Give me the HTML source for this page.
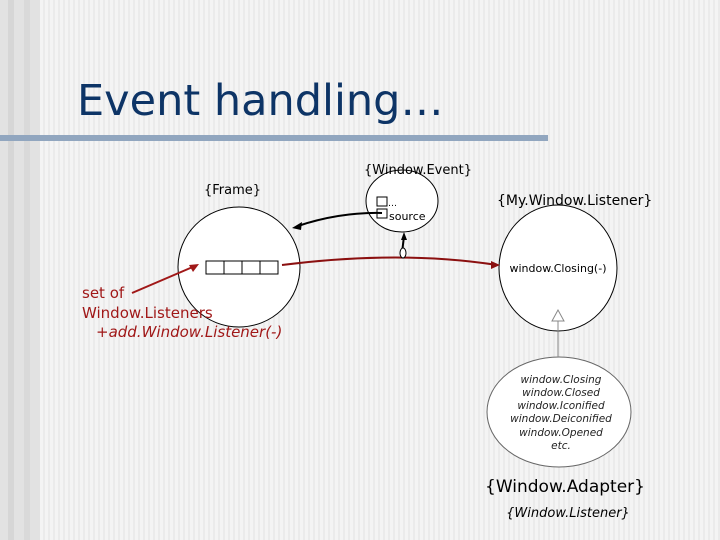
<!DOCTYPE html>
<html><head><meta charset="utf-8"><style>
body{margin:0;width:720px;height:540px;overflow:hidden;font-family:"DejaVu Sans","Liberation Sans",sans-serif;
background:repeating-linear-gradient(90deg,#f4f4f4 0,#f4f4f4 3px,#ebebeb 3px,#ebebeb 5px);}
</style></head><body>
<svg width="720" height="540" style="position:absolute;left:0;top:0">
<rect x="0" y="0" width="40" height="540" fill="#e2e2e2"/>
<rect x="8" y="0" width="6" height="540" fill="#d6d6d6"/>
<rect x="24" y="0" width="6" height="540" fill="#d9d9d9"/>
<rect x="0" y="135" width="548" height="6" fill="#91a6bf"/>
<text x="77" y="115" font-size="43" fill="#0d3466" font-family="DejaVu Sans,sans-serif">Event handling…</text>
<g stroke="#000" fill="#fff" stroke-width="1">
<ellipse cx="239" cy="267" rx="61" ry="60"/>
<ellipse cx="402" cy="201" rx="36" ry="31"/>
<ellipse cx="558" cy="268" rx="59" ry="63"/>
<ellipse cx="559" cy="412" rx="72" ry="55" stroke="#666"/>
<rect x="206" y="261" width="18" height="13"/><rect x="224" y="261" width="18" height="13"/>
<rect x="242" y="261" width="18" height="13"/><rect x="260" y="261" width="18" height="13"/>
<rect x="377" y="197" width="10" height="9"/><rect x="377" y="209" width="10" height="9"/>
</g>
<path d="M382 213 Q340 212 298 226" stroke="#000" stroke-width="2" fill="none"/>
<polygon points="292,228 302,222 301,230" fill="#000"/>
<path d="M402 253 L404 236" stroke="#000" stroke-width="2"/>
<polygon points="404,232 401,240 407,240" fill="#000"/>
<path d="M282 265 Q400 250 497 265" stroke="#8b1010" stroke-width="2" fill="none"/>
<ellipse cx="403" cy="253" rx="3" ry="5" fill="#fff" stroke="#000"/>
<polygon points="500,265 491,261 491,269" fill="#8b1010"/>
<path d="M132 293 L195 266" stroke="#a01818" stroke-width="2"/>
<polygon points="199,264 189,265 193,272" fill="#a01818"/>
<line x1="558" y1="320" x2="558" y2="357" stroke="#888"/>
<polygon points="558,310 552,321 564,321" fill="#fff" stroke="#888"/>
<g font-size="13" fill="#000">
<text x="204" y="194">{Frame}</text>
<text x="364" y="174">{Window.Event}</text>
<text x="497" y="205" font-size="14">{My.Window.Listener}</text>
<text x="388" y="206" font-size="9">…</text>
<text x="389" y="220" font-size="11">source</text>
<text x="558" y="272" font-size="11" text-anchor="middle">window.Closing(-)</text>
</g>
<g font-size="15" fill="#a01818">
<text x="82" y="298">set of</text>
<text x="82" y="318">Window.Listeners</text>
<text x="96" y="337" font-style="italic">+add.Window.Listener(-)</text>
</g>
<g font-size="10.5" font-style="italic" fill="#222" text-anchor="middle">
<text x="561" y="383">window.Closing</text>
<text x="561" y="396">window.Closed</text>
<text x="561" y="409">window.Iconified</text>
<text x="561" y="422">window.Deiconified</text>
<text x="561" y="436">window.Opened</text>
<text x="561" y="449">etc.</text>
</g>
<text x="565" y="492" font-size="17" text-anchor="middle">{Window.Adapter}</text>
<text x="568" y="517" font-size="13" font-style="italic" text-anchor="middle">{Window.Listener}</text>
</svg>
</body></html>
